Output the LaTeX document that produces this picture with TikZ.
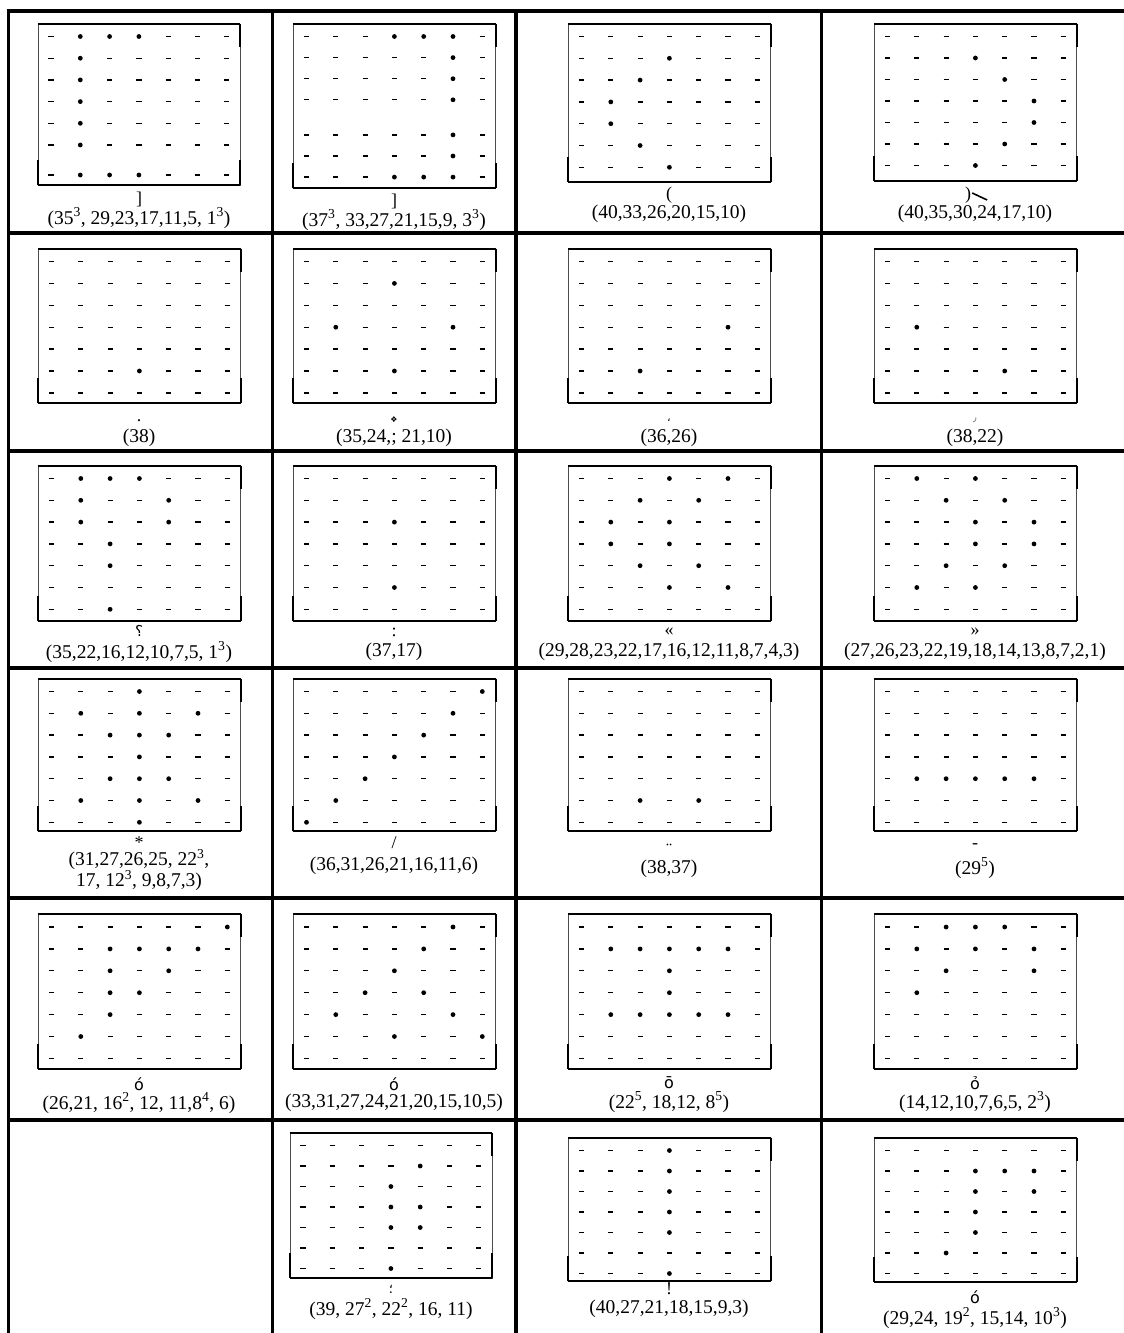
\documentclass[tikz,border=0pt]{standalone}
\usepackage{fontspec}
\setmainfont{Liberation Serif}
\newfontfamily\arabicfont[Script=Arabic]{DejaVu Sans}
\newfontfamily\markfont{DejaVu Sans}
\newcommand{\pw}[1]{\textsuperscript{#1}}
% one dot-matrix box: name, left, top, height, row step, gap after row, gap, rows (1 = dot)
\newcommand{\dotbox}[8]{%
  \node[gridbox,minimum height=#4] (#1) at ({#2+101},{#3+#4/2}) {};
  \draw[edge] (#1.north west) -- (#1.north east);
  \draw[edge] (#1.south west) -- (#1.south east);
  \draw[edge] (#1.north east) -- ++(0,23);
  \draw[edge] (#1.south east) -- ++(0,-25);
  \draw[edge] (#1.south west) -- ++(0,-25);
  \foreach \rowdots [count=\row] in {#8}{%
    \pgfmathsetmacro{\ry}{#3+12.5+(\row-1)*#5+(\row>#6)*#7}%
    \foreach \m [count=\col] in \rowdots{%
      \pgfmathsetmacro{\rx}{#2+13+(\col-1)*29.3}%
      \ifnum\m=1 \fill (\rx,\ry) circle (2.4);%
      \else \draw[dashmark] (\rx-2.6,\ry) -- (\rx+2.6,\ry);\fi
    }%
  }%
}
\begin{document}
\begin{tikzpicture}[x=1pt,y=-1pt,
  rule/.style={line width=3.6pt},
  gridbox/.style={draw=black!70,line width=0.7pt,minimum width=202pt,inner sep=0pt},
  edge/.style={line width=1.8pt},
  dashmark/.style={line width=1.3pt},
  glyph/.style={font=\fontsize{18}{20}\selectfont,inner sep=0pt},
  arabglyph/.style={font=\arabicfont\fontsize{15}{18}\selectfont,inner sep=0pt},
  markglyph/.style={font=\markfont\fontsize{16}{18}\selectfont,inner sep=0pt},
  tinyglyph/.style={font=\markfont\fontsize{8}{9}\selectfont,inner sep=0pt},
  caption/.style={font=\fontsize{19.5}{21}\selectfont,inner sep=0pt,align=center}]
\useasboundingbox (0,0) rectangle (1124,1333);

% table rules
\foreach \y in {11,233,451,668,898,1120}
  \draw[rule] (6.7,\y) -- (1130,\y);
\foreach \x in {8.5,272.5,516,821.5}
  \draw[rule] (\x,9.2) -- (\x,1340);

% row 1: brackets
\dotbox{b11}{38}{24}{161}{21.7}{6}{8.3}{%
  {0,1,1,1,0,0,0},{0,1,0,0,0,0,0},{0,1,0,0,0,0,0},{0,1,0,0,0,0,0},%
  {0,1,0,0,0,0,0},{0,1,0,0,0,0,0},{0,1,1,1,0,0,0}}
\node[glyph] (g11) at (139,199) {]};
\node[caption] (t11) at (139,218) {(35\pw{3}, 29,23,17,11,5, 1\pw{3})};

\dotbox{b12}{293.5}{24}{164}{21.1}{4}{14}{%
  {0,0,0,1,1,1,0},{0,0,0,0,0,1,0},{0,0,0,0,0,1,0},{0,0,0,0,0,1,0},%
  {0,0,0,0,0,1,0},{0,0,0,0,0,1,0},{0,0,0,1,1,1,0}}
\node[glyph] (g12) at (394,201) {]};
\node[caption] (t12) at (394,220) {(37\pw{3}, 33,27,21,15,9, 3\pw{3})};

\dotbox{b13}{568.5}{24}{157.5}{21.8}{7}{0}{%
  {0,0,0,0,0,0,0},{0,0,0,1,0,0,0},{0,0,1,0,0,0,0},{0,1,0,0,0,0,0},%
  {0,1,0,0,0,0,0},{0,0,1,0,0,0,0},{0,0,0,1,0,0,0}}
\node[glyph] (g13) at (669,195) {(};
\node[caption] (t13) at (669,214) {(40,33,26,20,15,10)};

\dotbox{b14}{874.5}{24}{157}{21.5}{7}{0}{%
  {0,0,0,0,0,0,0},{0,0,0,1,0,0,0},{0,0,0,0,1,0,0},{0,0,0,0,0,1,0},%
  {0,0,0,0,0,1,0},{0,0,0,0,1,0,0},{0,0,0,1,0,0,0}}
\node[glyph] (g14) at (968,195) {)};
\draw[line width=1.6pt] (g14.east) ++(1,-2) -- ++(15,7);
\node[caption] (t14) at (975,214) {(40,35,30,24,17,10)};

% row 2: stops and commas
\dotbox{b21}{38.5}{249}{154}{21.9}{7}{0}{%
  {0,0,0,0,0,0,0},{0,0,0,0,0,0,0},{0,0,0,0,0,0,0},{0,0,0,0,0,0,0},%
  {0,0,0,0,0,0,0},{0,0,0,1,0,0,0},{0,0,0,0,0,0,0}}
\node[glyph] (g21) at (139,421) {.};
\node[caption] (t21) at (139,438) {(38)};

\dotbox{b22}{293.5}{249}{154}{21.9}{7}{0}{%
  {0,0,0,0,0,0,0},{0,0,0,1,0,0,0},{0,0,0,0,0,0,0},{0,1,0,0,0,1,0},%
  {0,0,0,0,0,0,0},{0,0,0,1,0,0,0},{0,0,0,0,0,0,0}}
\node[tinyglyph] (g22) at (394,420) {❖};
\node[caption] (t22) at (394,438) {(35,24,; 21,10)};

\dotbox{b23}{568.5}{249}{154}{21.9}{7}{0}{%
  {0,0,0,0,0,0,0},{0,0,0,0,0,0,0},{0,0,0,0,0,0,0},{0,0,0,0,0,1,0},%
  {0,0,0,0,0,0,0},{0,0,1,0,0,0,0},{0,0,0,0,0,0,0}}
\node[arabglyph,font=\arabicfont\fontsize{11}{12}\selectfont] (g23) at (669,420) {،};
\node[caption] (t23) at (669,438) {(36,26)};

\dotbox{b24}{874.5}{249}{154}{21.9}{7}{0}{%
  {0,0,0,0,0,0,0},{0,0,0,0,0,0,0},{0,0,0,0,0,0,0},{0,1,0,0,0,0,0},%
  {0,0,0,0,0,0,0},{0,0,0,0,1,0,0},{0,0,0,0,0,0,0}}
\node[arabglyph,font=\arabicfont\fontsize{11}{12}\selectfont,text=black!55] (g24) at (975,420) {٫};
\node[caption] (t24) at (975,438) {(38,22)};

% row 3: question mark, colon, guillemets
\dotbox{b31}{38.5}{466}{155}{21.8}{7}{0}{%
  {0,1,1,1,0,0,0},{0,1,0,0,1,0,0},{0,1,0,0,1,0,0},{0,0,1,0,0,0,0},%
  {0,0,1,0,0,0,0},{0,0,0,0,0,0,0},{0,0,1,0,0,0,0}}
\node[arabglyph] (g31) at (139,631) {؟};
\node[caption] (t31) at (139,652) {(35,22,16,12,10,7,5, 1\pw{3})};

\dotbox{b32}{293.5}{466}{155}{21.8}{7}{0}{%
  {0,0,0,0,0,0,0},{0,0,0,0,0,0,0},{0,0,0,1,0,0,0},{0,0,0,0,0,0,0},%
  {0,0,0,0,0,0,0},{0,0,0,1,0,0,0},{0,0,0,0,0,0,0}}
\node[glyph] (g32) at (394,632) {:};
\node[caption] (t32) at (394,652) {(37,17)};

\dotbox{b33}{568.5}{466}{155}{21.8}{7}{0}{%
  {0,0,0,1,0,1,0},{0,0,1,0,1,0,0},{0,1,0,1,0,0,0},{0,1,0,1,0,0,0},%
  {0,0,1,0,1,0,0},{0,0,0,1,0,1,0},{0,0,0,0,0,0,0}}
\node[glyph] (g33) at (669,632) {«};
\node[caption] (t33) at (669,652) {(29,28,23,22,17,16,12,11,8,7,4,3)};

\dotbox{b34}{874.5}{466}{155}{21.8}{7}{0}{%
  {0,1,0,1,0,0,0},{0,0,1,0,1,0,0},{0,0,0,1,0,1,0},{0,0,0,1,0,1,0},%
  {0,0,1,0,1,0,0},{0,1,0,1,0,0,0},{0,0,0,0,0,0,0}}
\node[glyph] (g34) at (975,632) {»};
\node[caption] (t34) at (975,652) {(27,26,23,22,19,18,14,13,8,7,2,1)};

% row 4: asterisk, slash, diaeresis, hyphen
\dotbox{b41}{38.5}{679}{152}{21.8}{7}{0}{%
  {0,0,0,1,0,0,0},{0,1,0,1,0,1,0},{0,0,1,1,1,0,0},{0,0,0,1,0,0,0},%
  {0,0,1,1,1,0,0},{0,1,0,1,0,1,0},{0,0,0,1,0,0,0}}
\node[glyph] (g41) at (139,843) {*};
\node[caption] (t41) at (139,870) {(31,27,26,25, 22\pw{3},\\ 17, 12\pw{3}, 9,8,7,3)};

\dotbox{b42}{293.5}{679}{152}{21.8}{7}{0}{%
  {0,0,0,0,0,0,1},{0,0,0,0,0,1,0},{0,0,0,0,1,0,0},{0,0,0,1,0,0,0},%
  {0,0,1,0,0,0,0},{0,1,0,0,0,0,0},{1,0,0,0,0,0,0}}
\node[glyph] (g42) at (394,843) {/};
\node[caption] (t42) at (394,866) {(36,31,26,21,16,11,6)};

\dotbox{b43}{568.5}{679}{152}{21.8}{7}{0}{%
  {0,0,0,0,0,0,0},{0,0,0,0,0,0,0},{0,0,0,0,0,0,0},{0,0,0,0,0,0,0},%
  {0,0,0,0,0,0,0},{0,0,1,0,1,0,0},{0,0,0,0,0,0,0}}
\node[glyph,anchor=base] (g43) at (669,855) {¨};
\node[caption] (t43) at (669,869) {(38,37)};

\dotbox{b44}{874.5}{679}{152}{21.8}{7}{0}{%
  {0,0,0,0,0,0,0},{0,0,0,0,0,0,0},{0,0,0,0,0,0,0},{0,0,0,0,0,0,0},%
  {0,1,1,1,1,1,0},{0,0,0,0,0,0,0},{0,0,0,0,0,0,0}}
\node[glyph] (g44) at (975,846) {-};
\node[caption] (t44) at (975,868) {(29\pw{5})};

% row 5: marked letters
\dotbox{b51}{38.5}{914.5}{154}{21.9}{7}{0}{%
  {0,0,0,0,0,0,1},{0,0,1,1,1,1,0},{0,0,1,0,1,0,0},{0,0,1,1,0,0,0},%
  {0,0,1,0,0,0,0},{0,1,0,0,0,0,0},{0,0,0,0,0,0,0}}
\node[markglyph] (g51) at (139,1084) {ó};
\node[caption] (t51) at (139,1103) {(26,21, 16\pw{2}, 12, 11,8\pw{4}, 6)};

\dotbox{b52}{293.5}{914.5}{154}{21.9}{7}{0}{%
  {0,0,0,0,0,1,0},{0,0,0,0,1,0,0},{0,0,0,1,0,0,0},{0,0,1,0,1,0,0},%
  {0,1,0,0,0,1,0},{0,0,0,1,0,0,1},{0,0,0,0,0,0,0}}
\node[markglyph] (g52) at (394,1084) {ó};
\node[caption] (t52) at (394,1103) {(33,31,27,24,21,20,15,10,5)};

\dotbox{b53}{568.5}{914.5}{154}{21.9}{7}{0}{%
  {0,0,0,0,0,0,0},{0,1,1,1,1,1,0},{0,0,0,1,0,0,0},{0,0,0,1,0,0,0},%
  {0,1,1,1,1,1,0},{0,0,0,0,0,0,0},{0,0,0,0,0,0,0}}
\node[markglyph] (g53) at (669,1083) {ō};
\node[caption] (t53) at (669,1102) {(22\pw{5}, 18,12, 8\pw{5})};

\dotbox{b54}{874.5}{914.5}{154}{21.9}{7}{0}{%
  {0,0,1,1,1,0,0},{0,1,0,1,0,1,0},{0,0,1,0,0,1,0},{0,1,0,0,0,0,0},%
  {0,0,0,0,0,0,0},{0,0,0,0,0,0,0},{0,0,0,0,0,0,0}}
\node[markglyph] (g54) at (975,1083) {ỏ};
\node[caption] (t54) at (975,1102) {(14,12,10,7,6,5, 2\pw{3})};

% row 6: semicolon, exclamation, marked letter
\dotbox{b62}{290}{1133}{145}{20.5}{7}{0}{%
  {0,0,0,0,0,0,0},{0,0,0,0,1,0,0},{0,0,0,1,0,0,0},{0,0,0,1,1,0,0},%
  {0,0,0,1,1,0,0},{0,0,0,0,0,0,0},{0,0,0,1,0,0,0}}
\node[arabglyph,font=\arabicfont\fontsize{13}{14}\selectfont] (g62) at (391,1289) {؛};
\node[caption] (t62) at (391,1309) {(39, 27\pw{2}, 22\pw{2}, 16, 11)};

\dotbox{b63}{568.5}{1138}{143}{20.5}{7}{0}{%
  {0,0,0,1,0,0,0},{0,0,0,1,0,0,0},{0,0,0,1,0,0,0},{0,0,0,1,0,0,0},%
  {0,0,0,1,0,0,0},{0,0,0,0,0,0,0},{0,0,0,1,0,0,0}}
\node[glyph] (g63) at (669,1289) {!};
\node[caption] (t63) at (669,1309) {(40,27,21,18,15,9,3)};

\dotbox{b64}{874.5}{1138}{144}{20.5}{7}{0}{%
  {0,0,0,0,0,0,0},{0,0,0,1,1,1,0},{0,0,0,1,0,1,0},{0,0,0,1,0,0,0},%
  {0,0,0,1,0,0,0},{0,0,1,0,0,0,0},{0,0,0,0,0,0,0}}
\node[markglyph] (g64) at (975,1297) {ó};
\node[caption] (t64) at (975,1318) {(29,24, 19\pw{2}, 15,14, 10\pw{3})};
\end{tikzpicture}
\end{document}
